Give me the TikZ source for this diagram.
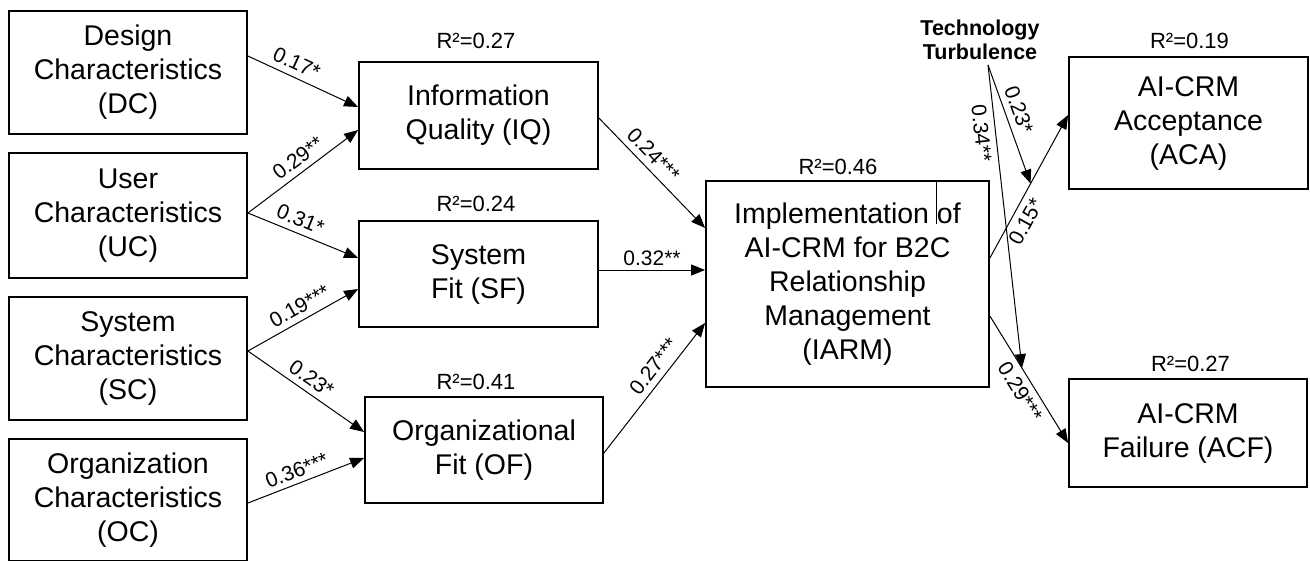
\documentclass[tikz,border=0pt]{standalone}
\usepackage{fontspec}
\setmainfont{Liberation Sans}
\usetikzlibrary{arrows.meta,calc}

\begin{document}
\begin{tikzpicture}[x=1pt,y=-1pt,
  box/.style={draw,line width=1.8pt,inner sep=0pt,align=center,
    font=\fontsize{28.5}{34}\selectfont},
  rsq/.style={inner sep=0pt,font=\fontsize{22}{26}\selectfont},
  coef/.style={inner sep=1pt,font=\fontsize{21}{24}\selectfont,sloped},
  path/.style={line width=1pt,-{Triangle[length=14pt,width=11pt]}},
]
\useasboundingbox (0,0) rectangle (1310,560);
\fill[white] (0,0) rectangle (1310,560);

% exogenous constructs
\node[box,minimum width=238pt,minimum height=123pt] (DC) at (128,72.5)
  {Design\\Characteristics\\(DC)};
\node[box,minimum width=238pt,minimum height=125pt] (UC) at (128,215.5)
  {User\\Characteristics\\(UC)};
\node[box,minimum width=238pt,minimum height=123pt] (SC) at (128,358.5)
  {System\\Characteristics\\(SC)};
\node[box,minimum width=238pt,minimum height=122pt] (OC) at (128,500)
  {Organization\\Characteristics\\(OC)};

% mediating constructs
\node[box,minimum width=239pt,minimum height=107pt] (IQ) at (478.5,115.5)
  {Information\\Quality (IQ)};
\node[box,minimum width=239pt,minimum height=106pt] (SF) at (478.5,274)
  {System\\Fit (SF)};
\node[box,minimum width=238pt,minimum height=106pt] (OF) at (484,450)
  {Organizational\\Fit (OF)};

% implementation
\node[box,minimum width=283pt,minimum height=206pt] (IARM) at (847.5,284)
  {Implementation of\\AI-CRM for B2C\\Relationship\\Management\\(IARM)};
\draw[line width=0.8pt] ($(IARM.north)+(88.5,2)$) -- ++(0,42);

% outcomes
\node[box,minimum width=239pt,minimum height=132pt] (ACA) at (1188.5,123)
  {AI-CRM\\Acceptance\\(ACA)};
\node[box,minimum width=238pt,minimum height=108pt] (ACF) at (1188,433)
  {AI-CRM\\Failure (ACF)};

% moderator
\node[align=center,inner sep=0pt,font=\bfseries\fontsize{21.5}{24}\selectfont]
  (TT) at (980,40) {Technology\\Turbulence};
\coordinate (ttf) at (988,65);

% explained variance
\node[rsq] (r1) at ($(IQ.north)+(-2.5,-20.5)$) {R²=0.27};
\node[rsq] (r2) at ($(SF.north)+(-2.5,-16)$) {R²=0.24};
\node[rsq] (r3) at ($(OF.north)+(-8,-14.5)$) {R²=0.41};
\node[rsq] (r4) at ($(IARM.north)+(-9.5,-13.5)$) {R²=0.46};
\node[rsq] (r5) at ($(ACA.north)+(1,-15.5)$) {R²=0.19};
\node[rsq] (r6) at ($(ACF.north)+(2.5,-14)$) {R²=0.27};

% structural paths
\draw[path] (DC.east |- 0,56) -- node[coef,above=5pt,pos=0.39] {0.17*} (IQ.west |- 0,107);
\draw[path] (UC.east |- 0,213) -- node[coef,above=5pt,pos=0.53] {0.29**} (IQ.west |- 0,130);
\draw[path] (UC.east |- 0,213) -- node[coef,above=5pt,pos=0.43] {0.31*} (SF.west |- 0,258);
\draw[path] (SC.east |- 0,351) -- node[coef,above=5pt,pos=0.53] {0.19***} (SF.west |- 0,289);
\draw[path] (SC.east |- 0,351) -- node[coef,above=5pt,pos=0.48] {0.23*} (OF.west |- 0,432);
\draw[path] (OC.east |- 0,503) -- node[coef,above=4pt,pos=0.46] {0.36***} (OF.west |- 0,458);

\draw[path] (IQ.east |- 0,118) -- node[coef,above=5pt,pos=0.42] {0.24***} (IARM.west |- 0,228);
\draw[path] (SF.east |- 0,270) -- node[coef,above=3pt,pos=0.5] {0.32**} (IARM.west |- 0,270);
\draw[path] (OF.east |- 0,453) -- node[coef,above=5pt,pos=0.6] {0.27***} (IARM.west |- 0,323);

\coordinate (ia1) at (IARM.east |- 0,258);
\coordinate (ia2) at (ACA.west |- 0,115);
\coordinate (if1) at (IARM.east |- 0,316);
\coordinate (if2) at (ACF.west |- 0,443);
\draw[path] (ia1) -- node[coef,below=5pt,pos=0.3] {0.15*} (ia2);
\draw[path] (if1) -- node[coef,below=5pt,pos=0.54] {0.29***} (if2);

% moderating effects
\coordinate (m1) at ($(ia1)!0.52!(ia2)$);
\coordinate (m2) at ($(if1)!0.41!(if2)$);
\draw[path] (ttf) -- node[coef,above=5pt,pos=0.42] {0.23*} (m1);
\draw[path] (ttf) -- node[coef,below=5pt,pos=0.22] {0.34**} (m2);
\end{tikzpicture}
\end{document}
